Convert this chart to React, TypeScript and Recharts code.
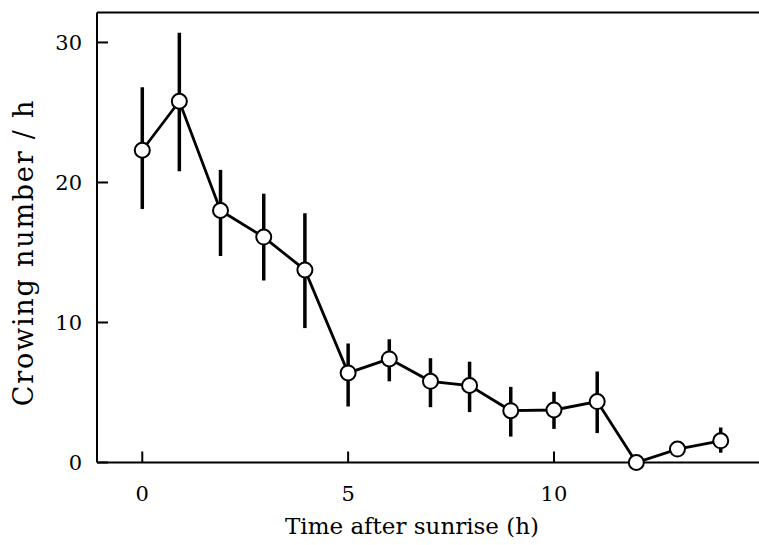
import React from "react";
import { LineChart, Line, XAxis, YAxis, ErrorBar, Label, ReferenceLine } from "recharts";

const hours = [0, 0.9, 1.9, 2.95, 3.95, 5, 6, 7, 7.95, 8.95, 10, 11.05, 12, 13, 14.05];
const means = [22.3, 25.8, 18.0, 16.1, 13.75, 6.4, 7.4, 5.8, 5.5, 3.7, 3.75, 4.35, 0, 0.96, 1.55];
const upper = [26.8, 30.7, 20.9, 19.2, 17.8, 8.5, 8.8, 7.45, 7.2, 5.4, 5.05, 6.5, 0, 0.96, 2.5];
const lower = [18.1, 20.8, 14.75, 13.0, 9.6, 4.0, 5.8, 3.95, 3.6, 1.85, 2.4, 2.1, 0, 0.96, 0.7];

const xTicks = [0, 5, 10];
const yTicks = [0, 10, 20, 30];

const X_DOMAIN = [-1.1, 14.98];
const Y_MAX = 32.14;

// error bars are asymmetric: [below, above] relative to the mean
const data = hours.map((h, i) => ({
  hour: h,
  crowing: means[i],
  err: [means[i] - lower[i], upper[i] - means[i]],
}));

const FONT = "'DejaVu Serif', serif";
const TICK_LEN = 11;
const X_MARGIN = 38;
const Y_MARGIN = 15;

// ticks point into the plot, so draw the tick mark ourselves
const XTick = ({ x, y, payload }: any) => {
  const axisY = y - X_MARGIN;
  return (
    <g>
      <line x1={x} y1={axisY} x2={x} y2={axisY - TICK_LEN} stroke="#000" strokeWidth={2} />
      <text x={x} y={y} textAnchor="middle" fontFamily={FONT} fontSize={21} fill="#000">
        {payload.value}
      </text>
    </g>
  );
};

const YTick = ({ x, y, payload }: any) => {
  const axisX = x + Y_MARGIN;
  return (
    <g>
      <line x1={axisX} y1={y} x2={axisX + TICK_LEN} y2={y} stroke="#000" strokeWidth={2} />
      <text x={x} y={y + 7.5} textAnchor="end" fontFamily={FONT} fontSize={21} fill="#000">
        {payload.value}
      </text>
    </g>
  );
};

const YLabel = ({ viewBox }: any) => {
  const cx = 23;
  const cy = viewBox.y + viewBox.height / 2 + 15;
  return (
    <text
      x={cx}
      y={cy}
      transform={`rotate(-90 ${cx} ${cy})`}
      textAnchor="middle"
      dominantBaseline="central"
      fontFamily={FONT}
      fontSize={27}
      letterSpacing={1.8}
      fill="#000"
    >
      Crowing number / h
    </text>
  );
};

export default function App() {
  return (
    <div style={{ position: "absolute", left: 0, top: 0, background: "#fff" }}>
      <LineChart
        width={759}
        height={545}
        data={data}
        margin={{ top: 12.5, right: 0, left: 0, bottom: 0 }}
      >
        <XAxis
          type="number"
          dataKey="hour"
          domain={X_DOMAIN}
          ticks={xTicks}
          height={82.5}
          tickSize={0}
          tickMargin={X_MARGIN}
          tick={<XTick />}
          axisLine={{ stroke: "#000", strokeWidth: 2 }}
        >
          <Label
            value="Time after sunrise (h)"
            position="insideBottom"
            offset={11}
            dx={-16}
            fontFamily={FONT}
            fontSize={23}
            fill="#000"
          />
        </XAxis>
        <YAxis
          type="number"
          domain={[0, Y_MAX]}
          ticks={yTicks}
          width={97}
          tickSize={0}
          tickMargin={Y_MARGIN}
          tick={<YTick />}
          axisLine={{ stroke: "#000", strokeWidth: 2 }}
        >
          <Label content={<YLabel />} />
        </YAxis>
        <ReferenceLine y={Y_MAX} stroke="#000" strokeWidth={2} />
        <Line
          dataKey="crowing"
          type="linear"
          stroke="#000"
          strokeWidth={2.8}
          dot={{ r: 7.5, fill: "#fff", stroke: "#000", strokeWidth: 2 }}
          isAnimationActive={false}
        >
          <ErrorBar dataKey="err" width={0} stroke="#000" strokeWidth={3.5} direction="y" />
        </Line>
      </LineChart>
    </div>
  );
}
